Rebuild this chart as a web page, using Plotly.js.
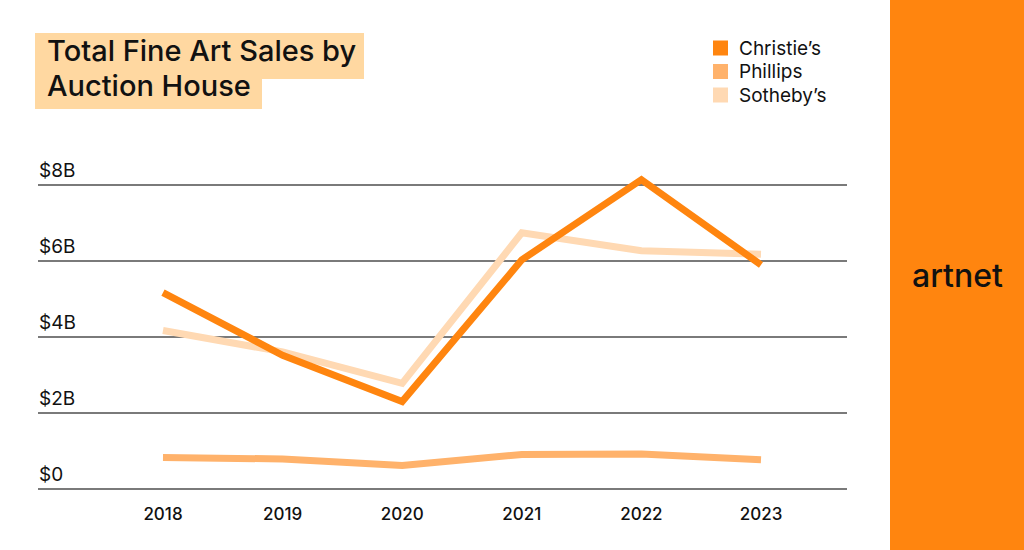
<!DOCTYPE html>
<html>
<head>
<meta charset="utf-8">
<script src="https://cdn.plot.ly/plotly-3.0.1.min.js"></script>
<style>
html,body{margin:0;padding:0;background:#fff;}
#chart{width:1024px;height:550px;}
</style>
</head>
<body>
<div id="chart"></div>
<script>
// ---- data ----
const years = [2018, 2019, 2020, 2021, 2022, 2023];
const christies = [5.17, 3.52, 2.30, 6.03, 8.14, 5.90];
const phillips = [0.83, 0.79, 0.62, 0.91, 0.92, 0.77];
const sothebys = [4.17, 3.61, 2.78, 6.74, 6.27, 6.18];
const seriesNames = ["Christie’s", "Phillips", "Sotheby’s"];
const yTickVals = [0, 2, 4, 6, 8];
const yTickText = ["$0", "$2B", "$4B", "$6B", "$8B"];
const titleLines = ["Total Fine Art Sales by", "Auction House"];
const brand = "artnet";

// ---- styling ----
const colors = ["#FF850F", "#FFB26B", "#FFD9B3"];
const L = 38, R = 847, T = 140, B = 489, W = 1024, H = 550;
const px2x = p => (p - L) / (R - L);
const px2y = p => (B - p) / (B - T);
const FONT = "Inter, Liberation Sans, sans-serif";

const traces = [
  {x: years, y: sothebys, name: seriesNames[2], color: colors[2]},
  {x: years, y: phillips, name: seriesNames[1], color: colors[1]},
  {x: years, y: christies, name: seriesNames[0], color: colors[0]}
].map(t => ({
  type: "scatter", mode: "lines", x: t.x, y: t.y, name: t.name,
  line: {color: t.color, width: 7}, showlegend: false, hoverinfo: "skip"
}));

const shapes = [
  {type: "rect", xref: "paper", yref: "paper", x0: px2x(890), x1: px2x(W + 5), y0: px2y(H + 5), y1: px2y(-5),
   fillcolor: "#FF850F", line: {width: 0}, layer: "below"},
  {type: "rect", xref: "paper", yref: "paper", x0: px2x(35), x1: px2x(364), y0: px2y(79), y1: px2y(33),
   fillcolor: "#FFD8A1", line: {width: 0}, layer: "below"},
  {type: "rect", xref: "paper", yref: "paper", x0: px2x(35), x1: px2x(262), y0: px2y(109), y1: px2y(78.5),
   fillcolor: "#FFD8A1", line: {width: 0}, layer: "below"}
];

const annotations = [];
const titleY = [50, 85];
titleLines.forEach((t, i) => annotations.push({
  xref: "paper", yref: "paper", x: px2x(45), y: px2y(titleY[i]), xanchor: "left", yanchor: "middle",
  text: t, showarrow: false, font: {family: FONT, size: 29, weight: 500, color: "#111"}
}));
const legY = [48, 71.5, 95];
seriesNames.forEach((n, i) => {
  shapes.push({type: "rect", xref: "paper", yref: "paper", x0: px2x(713), x1: px2x(728),
    y0: px2y(legY[i] + 7.5), y1: px2y(legY[i] - 7.5), fillcolor: colors[i], line: {width: 0}});
  annotations.push({xref: "paper", yref: "paper", x: px2x(737), y: px2y(legY[i]), xanchor: "left", yanchor: "middle",
    text: n, showarrow: false, font: {family: FONT, size: 19, color: "#111"}});
});
yTickVals.forEach((v, i) => annotations.push({
  xref: "paper", yref: "y", x: 0, y: v, xanchor: "left", yanchor: "bottom", yshift: 1, xshift: -1,
  text: yTickText[i], showarrow: false, font: {family: FONT, size: 19, color: "#111"}
}));
annotations.push({xref: "paper", yref: "paper", x: px2x(957), y: px2y(275), xanchor: "center", yanchor: "middle",
  text: brand, showarrow: false, font: {family: FONT, size: 32, weight: 500, color: "#111"}});

const layout = {
  width: W, height: H,
  margin: {l: L, r: W - R, t: T, b: H - B, pad: 0},
  paper_bgcolor: "#fff", plot_bgcolor: "rgba(0,0,0,0)",
  showlegend: false,
  xaxis: {type: "linear", range: [2016.955, 2023.719], tickvals: years, ticktext: years.map(String),
    showgrid: false, zeroline: false, showline: false, ticks: "", ticklabelstandoff: 13,
    tickfont: {family: FONT, size: 17, weight: 500, color: "#111"}, fixedrange: true},
  yaxis: {range: [0, (B - T) / 38], tickvals: yTickVals, showticklabels: false, ticks: "",
    showgrid: true, gridcolor: "#7a7a7a", gridwidth: 1.5, zeroline: true, zerolinecolor: "#7a7a7a",
    zerolinewidth: 1.5, showline: false, fixedrange: true},
  shapes: shapes,
  annotations: annotations
};

Plotly.newPlot("chart", traces, layout, {displayModeBar: false, staticPlot: true});
</script>
</body>
</html>
